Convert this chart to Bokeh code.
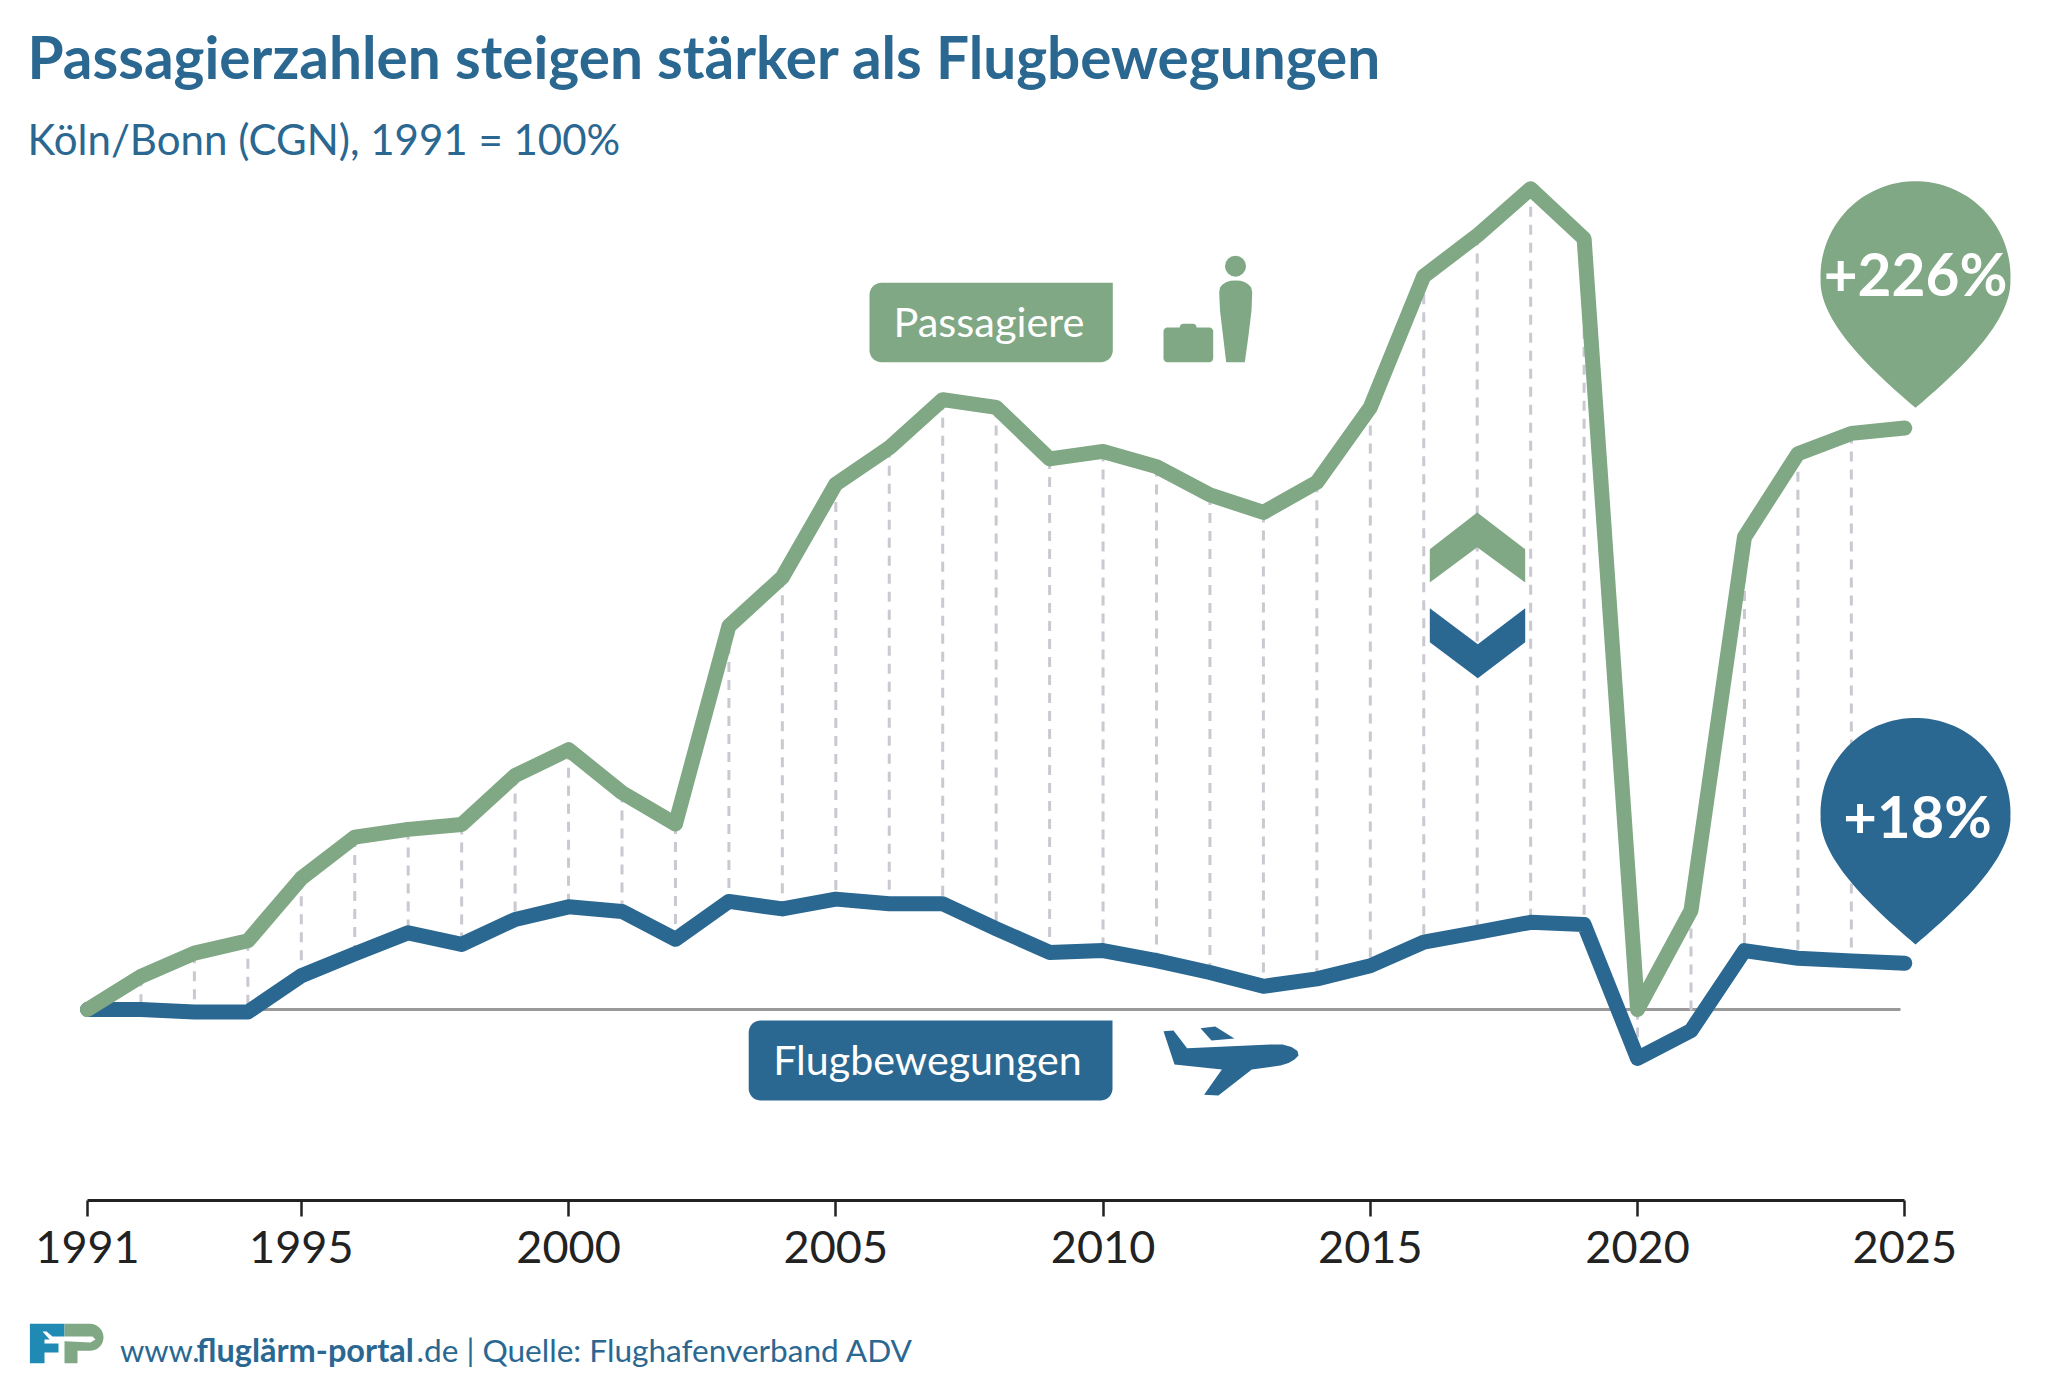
import numpy as np
from bokeh.plotting import figure
from bokeh.layouts import column
from bokeh.models import Range1d, FixedTicker, LinearAxis, BasicTickFormatter
from bokeh.core.properties import value
from bokeh.embed import file_html
from bokeh.resources import INLINE

years = list(range(1991, 2026))
passagiere = [100, 112.9, 121.9, 126.7, 151, 167, 170, 171.9, 190.9, 201, 184.3, 172.1, 249, 268, 304.2,
              318.3, 337, 334, 314, 316.9, 311, 300, 293.2, 304.9, 334, 385, 400.8, 419, 399.6, 100,
              138.5, 283.6, 316, 323.9, 326]
flug = [100, 100, 99, 99, 113.1, 121.6, 129.8, 125.3, 135, 139.9, 138.1, 127.3, 142, 139.1, 142.9,
        141.1, 141.1, 131.4, 122.2, 122.9, 119, 114.4, 109, 111.9, 117, 126.2, 130, 133.9, 133, 81,
        91.8, 122.9, 119.9, 118.9, 118]
tick_years = [1991, 1995, 2000, 2005, 2010, 2015, 2020, 2025]

GREEN = "#80a885"
BLUE = "#2a6791"
FONT = "Lato"

W, H, FOOT_H = 2030, 1295, 84
x0_px, px_per_year = 87.0, 53.45
y100_px, px_per_pct = 1009.0, 2.573
axis_px = 1200.0
BASE_ADJ = 0.38

p = figure(width=W, height=H, output_backend="svg", toolbar_location=None,
           x_range=Range1d(1991 - x0_px / px_per_year, 1991 + (W - x0_px) / px_per_year),
           y_range=Range1d(100 + (y100_px - axis_px) / px_per_pct, 100 + y100_px / px_per_pct),
           min_border_left=0, min_border_right=0, min_border_top=0, min_border_bottom=int(H - axis_px),
           y_axis_location=None, x_axis_location=None, background_fill_color="white", outline_line_color=None)
p.grid.visible = False
p.extra_x_ranges["px"] = Range1d(0, W)
p.extra_y_ranges["px"] = Range1d(axis_px, 0)
PX = dict(x_range_name="px", y_range_name="px")

ax = LinearAxis(ticker=FixedTicker(ticks=tick_years), bounds=(1991, 2025),
                formatter=BasicTickFormatter(use_scientific=False))
ax.axis_line_color = "#222222"
ax.axis_line_width = 3
ax.major_tick_line_color = "#222222"
ax.major_tick_line_width = 2.5
ax.major_tick_out = 16
ax.major_tick_in = 0
ax.minor_tick_out = 0
ax.minor_tick_in = 0
ax.major_label_standoff = 14
ax.major_label_text_font = FONT
ax.major_label_text_font_size = "45px"
ax.major_label_text_color = "#222222"
p.add_layout(ax, "below")

# baseline and drop lines
p.line([87, 1900], [1009, 1009], line_color="#999999", line_width=3, **PX)
p.segment(years[1:-1], passagiere[1:-1], years[1:-1], flug[1:-1], line_color="#c9c9d1",
          line_width=3, line_dash="10 8")
p.line(years, flug, line_color=BLUE, line_width=15, line_join="round", line_cap="round")
p.line(years, passagiere, line_color=GREEN, line_width=15, line_join="round", line_cap="round")


def txt(fig, x, y, s, size, color, bold=False, align="left"):
    fig.text([x], [y - BASE_ADJ * size], text=[s], text_color=color, text_font=value(FONT),
             text_font_size=f"{size}px", text_font_style="bold" if bold else "normal", text_align=align,
             text_baseline="alphabetic", **PX)


def rounded(x0, y0, x1, y1, r, corners):
    """corners: radius flags for TL, TR, BR, BL"""
    xs, ys = [], []
    cs = [(x0, y0, 180), (x1, y0, 270), (x1, y1, 0), (x0, y1, 90)]
    sx = [1, -1, -1, 1]
    sy = [1, 1, -1, -1]
    for i, (cx, cy, a0) in enumerate(cs):
        if corners[i]:
            t = np.radians(np.linspace(a0, a0 + 90, 10))
            xs += list(cx + sx[i] * r + r * np.cos(t))
            ys += list(cy + sy[i] * r + r * np.sin(t))
        else:
            xs.append(cx)
            ys.append(cy)
    return xs, ys


def pin(dy):
    cx, cy = 1915.0, 275.7 + dy
    t = np.radians(np.linspace(-183, 3, 60))
    xs = list(cx + 95 * np.cos(t))
    ys = list(cy + 95 * np.sin(t))
    P0, P1, P2, P3 = [(1820, 280.7), (1820, 320), (1865, 365), (1915, 407.3)]
    u = np.linspace(0, 1, 30)
    bx = (1-u)**3*P0[0] + 3*(1-u)**2*u*P1[0] + 3*(1-u)*u**2*P2[0] + u**3*P3[0]
    by = (1-u)**3*P0[1] + 3*(1-u)**2*u*P1[1] + 3*(1-u)*u**2*P2[1] + u**3*P3[1] + dy
    return xs + list(2 * cx - bx) + list(bx[::-1][1:]), ys + list(by) + list(by[::-1][1:])


# pins
for dy, col in [(0, GREEN), (536.7, BLUE)]:
    xs, ys = pin(dy)
    p.patch(xs, ys, fill_color=col, line_color=None, **PX)
txt(p, 1915, 294.3, "+226%", 58.5, "white", True, "center")
txt(p, 1917, 836.7, "+18%", 58, "white", True, "center")

# label boxes
xs, ys = rounded(869, 282.3, 1112.3, 361.7, 12, [1, 0, 1, 1])
p.patch(xs, ys, fill_color=GREEN, line_color=None, **PX)
txt(p, 988.5, 336, "Passagiere", 41.5, "white", False, "center")
xs, ys = rounded(748.2, 1020, 1112, 1100, 12, [1, 0, 1, 1])
p.patch(xs, ys, fill_color=BLUE, line_color=None, **PX)
txt(p, 927, 1074.3, "Flugbewegungen", 41.2, "white", False, "center")

# suitcase
xs, ys = rounded(1163, 327, 1212.7, 361.7, 4, [1, 1, 1, 1])
p.patch(xs, ys, fill_color=GREEN, line_color=None, **PX)
xs, ys = rounded(1179.3, 323.3, 1196, 332, 3.5, [1, 1, 0, 0])
p.patch(xs, ys, fill_color=GREEN, line_color=None, **PX)
# person
p.circle([1235], [265.7], radius=10.5, fill_color=GREEN, line_color=None, **PX)
p.patch([1225.7, 1222.5, 1219.5, 1218.7, 1219.5, 1222, 1226, 1230, 1235, 1240, 1244, 1248, 1250.7, 1251.7, 1251, 1248, 1244.3],
        [361.7, 335, 310, 291.7, 287, 284, 281.5, 280.3, 280, 280.3, 281.5, 284, 287, 291.7, 310, 335, 361.7],
        fill_color=GREEN, line_color=None, **PX)
# plane
p.patch([1163, 1173, 1186.6, 1270, 1282, 1291, 1297, 1298, 1294, 1288, 1280, 1251.3, 1217.9, 1203.6, 1221.4, 1174],
        [1030.7, 1030, 1047.7, 1044, 1044, 1046.5, 1050.5, 1055, 1059, 1062.5, 1065, 1069, 1095, 1094.3, 1069, 1064],
        fill_color=BLUE, line_color=None, **PX)
p.patch([1200, 1214.7, 1233.9, 1211], [1027.7, 1026, 1038, 1040], fill_color=BLUE, line_color=None, **PX)

# chevrons
p.patch([1429.3, 1476.7, 1524.7, 1524.7, 1476.7, 1429.3], [548.7, 512, 548.7, 582, 546.7, 582],
        fill_color=GREEN, line_color=None, **PX)
p.patch([1429.3, 1477.3, 1524.7, 1524.7, 1477.3, 1429.3], [607.7, 643.7, 607.7, 641.7, 677.7, 641.7],
        fill_color=BLUE, line_color=None, **PX)

# headings
txt(p, 27, 78, "Passagierzahlen steigen stärker als Flugbewegungen", 58.5, BLUE, True)
txt(p, 27, 154, "Köln/Bonn (CGN), 1991 = 100%", 42, BLUE)

# footer strip (below the axis, so that nothing is clipped by the chart frame)
q = figure(width=W, height=FOOT_H, output_backend="svg", toolbar_location=None,
           x_range=Range1d(0, W), y_range=Range1d(H + FOOT_H, H),
           min_border_left=0, min_border_right=0, min_border_top=0, min_border_bottom=0,
           x_axis_location=None, y_axis_location=None, background_fill_color="white", outline_line_color=None)
q.grid.visible = False
q.extra_x_ranges["px"] = Range1d(0, W)
q.extra_y_ranges["px"] = Range1d(H + FOOT_H, H)

LOGO_B = "#1f8bb5"
q.patch([29.4, 64, 64, 44, 44, 58, 58, 44, 44, 29.4], [1323.3, 1323.3, 1339, 1339, 1343, 1343, 1352, 1352, 1362.7, 1362.7],
        fill_color=LOGO_B, line_color=None, **PX)
t = np.radians(np.linspace(-90, 90, 20))
q.patch([64] + list(89.5 + 13.5 * np.cos(t)) + [77, 77, 64],
        [1323.3] + list(1336.8 + 13.5 * np.sin(t)) + [1350.3, 1362.7, 1362.7],
        fill_color=GREEN, line_color=None, **PX)
q.patch([42, 46, 52, 92, 95, 90, 50], [1331, 1331, 1336, 1336, 1339, 1342, 1340],
        fill_color="white", line_color=None, **PX)

txt(q, 119.4, 1361.7, "www.", 31, BLUE)
txt(q, 196, 1361.7, "fluglärm-portal", 32.5, BLUE, True)
txt(q, 416, 1361.7, ".de | Quelle: Flughafenverband ADV", 31.6, BLUE)

open("out.html", "w").write(file_html(column(p, q, spacing=0), INLINE))
